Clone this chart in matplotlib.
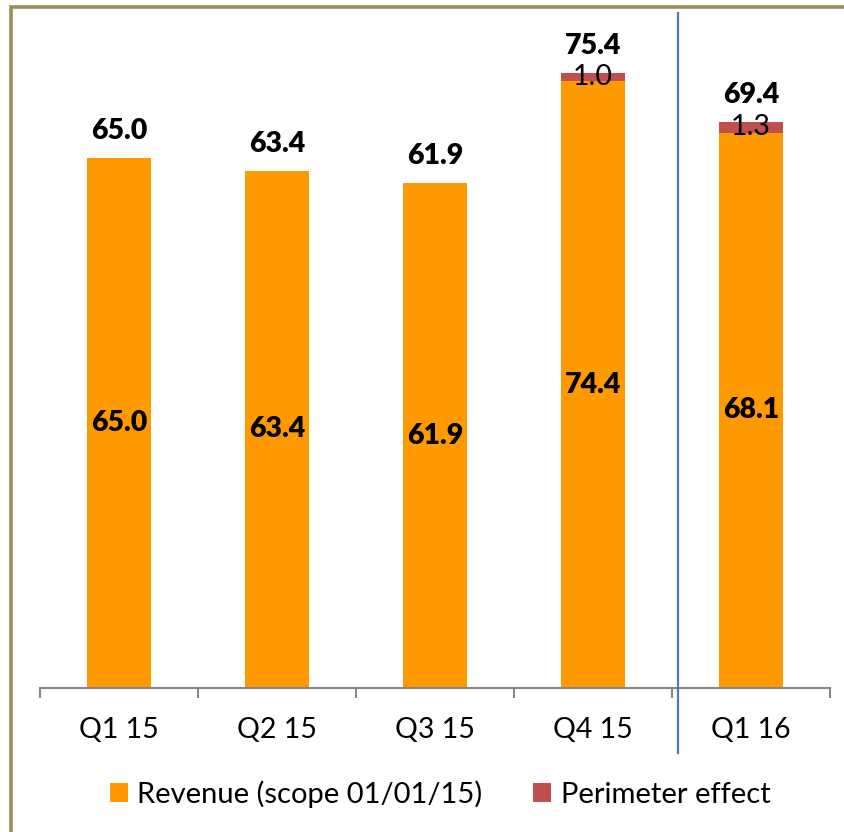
import matplotlib
matplotlib.use("Agg")
import matplotlib.pyplot as plt
from matplotlib.patches import Patch
from matplotlib.lines import Line2D
import matplotlib.transforms as mtransforms

categories = ["Q1 15", "Q2 15", "Q3 15", "Q4 15", "Q1 16"]
revenue = [65.0, 63.4, 61.9, 74.4, 68.1]
perimeter = [0.0, 0.0, 0.0, 1.0, 1.3]
totals = [65.0, 63.4, 61.9, 75.4, 69.4]
series_names = ["Revenue (scope 01/01/15)", "Perimeter effect"]

ORANGE = "#FF9900"
RED = "#C0504D"
W, H = 845, 832
DPI = 100

plt.rcParams['font.family'] = ['Lato', 'DejaVu Sans']

fig = plt.figure(figsize=(W / DPI, H / DPI), dpi=DPI)
fig.patch.set_facecolor("white")

ax_left, ax_right, ax_bottom, ax_top = 40, 830, 688, 12
ax = fig.add_axes([ax_left / W, (H - ax_bottom) / H, (ax_right - ax_left) / W, (ax_bottom - ax_top) / H])
px_per_unit = 8.155
ax.set_ylim(0, (ax_bottom - ax_top) / px_per_unit)
ax.set_xlim(-0.5, len(categories) - 0.5)

x = list(range(len(categories)))
bw = 0.4
ax.bar(x, revenue, width=bw, color=ORANGE, zorder=2)
ax.bar(x, perimeter, width=bw, bottom=revenue, color=RED, zorder=2)

for i in x:
    ax.text(i, revenue[i] / 2, f"{revenue[i]:.1f}", ha="center", va="center",
            fontsize=20.5, fontweight="heavy", color="black")
    if perimeter[i] > 0:
        ax.text(i, revenue[i] + perimeter[i] / 2, f"{perimeter[i]:.1f}", ha="center", va="center",
                fontsize=20.5, color="black")
    ax.annotate(f"{totals[i]:.1f}", (i, totals[i]), xytext=(0, 10), textcoords="offset points",
                ha="center", va="bottom", fontsize=20.5, fontweight="heavy", color="black")

for s in ["top", "right", "left"]:
    ax.spines[s].set_visible(False)
ax.spines["bottom"].set_color("#868686")
ax.spines["bottom"].set_linewidth(1.5)
ax.set_yticks([])
ax.set_xticks([i - 0.5 for i in range(len(categories) + 1)])
ax.set_xticklabels([])
ax.tick_params(axis="x", which="major", direction="out", length=7.5, width=1.5, color="#868686")
ax.set_xticks(x, minor=True)
ax.set_xticklabels(categories, minor=True, fontsize=20.5)
ax.tick_params(axis="x", which="minor", length=0, pad=21)

# vertical separator line
trans = mtransforms.blended_transform_factory(ax.transData, fig.transFigure)
sep_x = 3.5 + 6 / 158
ax.add_line(Line2D([sep_x, sep_x], [(H - 13) / H, (H - 753) / H], transform=trans,
                   color="#4A7EBB", linewidth=1.6, clip_on=False, zorder=3))

# frame border (top and left)
fig.add_artist(Line2D([10.8 / W, 10.8 / W, 1.0], [0.0, (H - 7.2) / H, (H - 7.2) / H],
                      transform=fig.transFigure, color="#9C8E5A", linewidth=2.6,
                      solid_joinstyle="miter"))

handles = [Patch(facecolor=ORANGE), Patch(facecolor=RED)]
fig.legend(handles, series_names, loc="center", bbox_to_anchor=(440 / W, (H - 794) / H),
           ncol=2, frameon=False, fontsize=21, handlelength=0.62, handleheight=0.62,
           handletextpad=0.32, columnspacing=1.75, borderpad=0)

fig.savefig("out.png", dpi=DPI, facecolor="white")
